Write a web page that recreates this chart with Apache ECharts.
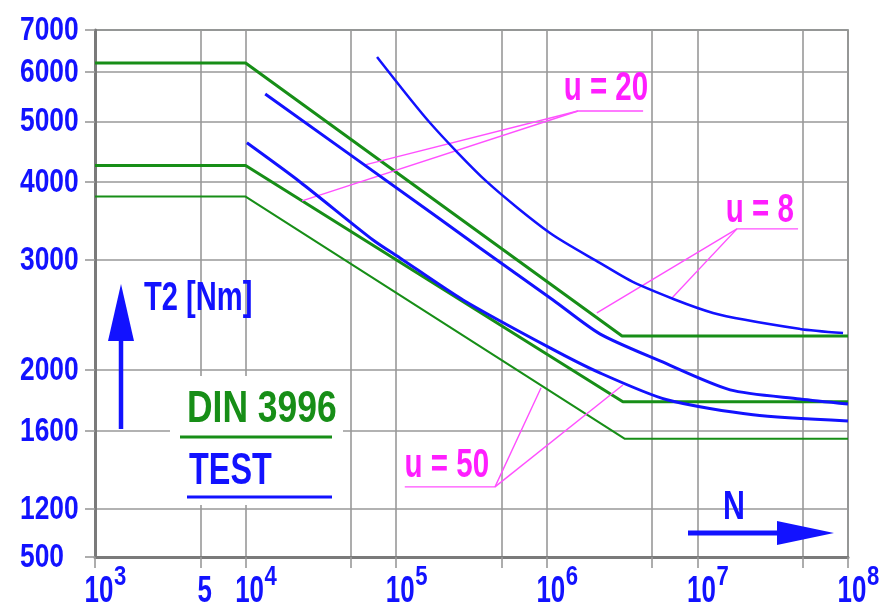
<!DOCTYPE html>
<html><head><meta charset="utf-8">
<script src="https://cdn.jsdelivr.net/npm/echarts@6/dist/echarts.min.js"></script>
<style>html,body{margin:0;padding:0;background:#fff}#c{width:895px;height:609px}</style>
</head><body><div id="c"></div>
<script>
// ---- axis ticks / labels ----
const xTickValues = [1e3, 5e3, 1e4, 5e4, 1e5, 5e5, 1e6, 5e6, 1e7, 5e7, 1e8];
const xLabelValues = [1e3, 5e3, 1e4, 1e5, 1e6, 1e7, 1e8];
const xLabelBase = ['10', '5', '10', '10', '10', '10', '10'];
const xLabelExp = ['3', '', '4', '5', '6', '7', '8'];
const yTickValues = [1005, 1200, 1600, 2000, 3000, 4000, 5000, 6000, 7000];
const yTickLabels = ['500', '1200', '1600', '2000', '3000', '4000', '5000', '6000', '7000'];

// ---- DIN 3996 (green) ----
const din_u8  = [[1e3, 6200], [1e4, 6200], [3.16e6, 2268], [1e8, 2268]];
const din_u20 = [[1e3, 4250], [1e4, 4250], [3.2e6, 1780], [1e8, 1780]];
const din_u50 = [[1e3, 3790], [1e4, 3790], [3.3e6, 1553], [1e8, 1553]];

// ---- TEST (blue) ----
const test_u8  = [[7.46e4, 6338], [1.68e5, 4970], [4.01e5, 4000], [1.05e6, 3314], [2.25e6, 2969], [3.97e6, 2747], [1.27e7, 2469], [4.8e7, 2328], [9.27e7, 2293]];
const test_u20 = [[1.35e4, 5530], [1.87e5, 3516], [3.6e5, 3136], [1.1e6, 2590], [2.25e6, 2286], [5.65e6, 2069], [1.65e7, 1860], [4.8e7, 1799], [1e8, 1766]];
const test_u50 = [[1.02e4, 4620], [2.3e4, 4000], [7.02e4, 3230], [1.06e5, 3023], [2.78e5, 2590], [1.05e6, 2171], [2.25e6, 1980], [6.28e6, 1793], [2.34e7, 1697], [1e8, 1659]];

// ---- annotation leaders (u labels) ----
const lead_u20_a = [[6.21e4, 4259], [1.61e6, 5194], [4.36e6, 5194]];
const lead_u20_b = [[2.37e4, 3730], [1.61e6, 5194]];
const lead_u8_a  = [[2.15e6, 2469], [1.83e7, 3365], [4.66e7, 3365]];
const lead_u8_b  = [[6.78e6, 2609], [1.83e7, 3365]];
const lead_u50_a = [[9.16e5, 1874], [4.53e5, 1301], [1.14e5, 1301]];
const lead_u50_b = [[3.2e6, 1894], [4.53e5, 1301]];
const annotLabels = ['u = 20', 'u = 8', 'u = 50'];
const annotPos = [[2.47e6, 5655], [2.6e7, 3609], [2.17e5, 1411]];

const GREEN = '#178e17', BLUE = '#1212ff', MAG = '#ff1eff', MAGL = '#ff50ff', GRID = '#999999';
const FONT = '"Liberation Sans", Arial, sans-serif';

function line(data, color, width, smooth, z) {
  return { type: 'line', data: data, symbol: 'none', smooth: smooth || false, z: z || 3,
    lineStyle: { color: color, width: width }, silent: true, animation: false };
}
function txt(x, y, text, color, size, sx, align, z) {
  return { type: 'text', z: z || 6, x: x, y: y, scaleX: sx, silent: true,
    style: { x: 0, y: 0, text: text, fill: color, fontSize: size, fontFamily: FONT, fontWeight: 'bold',
             align: align || 'left', verticalAlign: 'middle' } };
}

const chart = echarts.init(document.getElementById('c'), null, { renderer: 'canvas' });
chart.setOption({
  animation: false,
  backgroundColor: '#fff',
  grid: { left: 95, right: 47, top: 30, bottom: 52, show: true, borderColor: '#66706a', borderWidth: 1.5, containLabel: false },
  xAxis: {
    type: 'log', logBase: 10, min: 1e3, max: 1e8,
    axisLine: { show: true, lineStyle: { color: '#7a7a7a', width: 3 } },
    axisTick: { show: true, length: 11, customValues: xTickValues, lineStyle: { color: GRID, width: 1.6 } },
    splitLine: { show: true, lineStyle: { color: GRID, width: 1.6 } },
    minorTick: { show: false }, minorSplitLine: { show: false },
    axisLabel: { show: false }
  },
  yAxis: {
    type: 'log', logBase: 10, min: 1005, max: 7000,
    axisLine: { show: true, lineStyle: { color: '#7a7a7a', width: 3 } },
    axisTick: { show: true, length: 10, customValues: yTickValues, lineStyle: { color: GRID, width: 1.6 } },
    splitLine: { show: true, lineStyle: { color: GRID, width: 1.6 } },
    minorTick: { show: false }, minorSplitLine: { show: false },
    axisLabel: { show: false }
  },
  series: [
    line(din_u8, GREEN, 3), line(din_u20, GREEN, 3), line(din_u50, GREEN, 2),
    line(test_u8, BLUE, 2.5, 0.25, 4), line(test_u20, BLUE, 3, 0.25, 4), line(test_u50, BLUE, 3, 0.25, 4),
    line(lead_u20_a, MAGL, 1.4), line(lead_u20_b, MAGL, 1.4),
    line(lead_u8_a, MAGL, 1.4), line(lead_u8_b, MAGL, 1.4),
    line(lead_u50_a, MAGL, 1.4), line(lead_u50_b, MAGL, 1.4)
  ]
});

// ---- texts placed through the axes' own scales ----
const px = v => chart.convertToPixel({ xAxisIndex: 0 }, v);
const py = v => chart.convertToPixel({ yAxisIndex: 0 }, v);
const x0 = px(xLabelValues[0]);
const y0 = py(yTickValues[0]);
const g = [];
yTickValues.forEach((v, i) => g.push(txt(x0 - 75, py(v) + 1, yTickLabels[i], BLUE, 33, 0.8, 'left')));
xLabelValues.forEach((v, i) => {
  const cx = px(v);
  if (xLabelExp[i]) {
    g.push(txt(cx + 4, y0 + 35, xLabelBase[i], BLUE, 37, 0.7, 'center'));
    g.push(txt(cx + 19, y0 + 21, xLabelExp[i], BLUE, 27, 0.82, 'left'));
  } else {
    g.push(txt(cx + 4.5, y0 + 35, xLabelBase[i], BLUE, 37, 0.7, 'center'));
  }
});
annotPos.forEach((p, i) => g.push(txt(px(p[0]), py(p[1]) + 1, annotLabels[i], MAG, 41, 0.72, 'center')));
// legend box, axis titles and arrows
g.push({ type: 'rect', z: 5, shape: { x: 170, y: 376, width: 173, height: 129 }, style: { fill: '#fff' } });
g.push(txt(187, 410, 'DIN 3996', GREEN, 44, 0.805, 'left'));
g.push({ type: 'line', z: 6, shape: { x1: 180, y1: 437, x2: 332, y2: 437 }, style: { stroke: GREEN, lineWidth: 3 } });
g.push(txt(189, 472, 'TEST', BLUE, 45, 0.72, 'left'));
g.push({ type: 'line', z: 6, shape: { x1: 187, y1: 497, x2: 332, y2: 497 }, style: { stroke: BLUE, lineWidth: 3 } });
g.push(txt(144, 299, 'T2 [Nm]', BLUE, 41, 0.71, 'left'));
g.push({ type: 'line', z: 6, shape: { x1: 121, y1: 429, x2: 121, y2: 336 }, style: { stroke: BLUE, lineWidth: 4.5 } });
g.push({ type: 'polygon', z: 6, shape: { points: [[108, 341], [134, 341], [121, 284]] }, style: { fill: BLUE } });
g.push({ type: 'line', z: 6, shape: { x1: 688, y1: 533, x2: 782, y2: 533 }, style: { stroke: BLUE, lineWidth: 5 } });
g.push({ type: 'polygon', z: 6, shape: { points: [[777, 521], [777, 545], [834, 533]] }, style: { fill: BLUE } });
g.push(txt(734, 508, 'N', BLUE, 40, 0.76, 'center'));
chart.setOption({ graphic: g });
</script></body></html>
